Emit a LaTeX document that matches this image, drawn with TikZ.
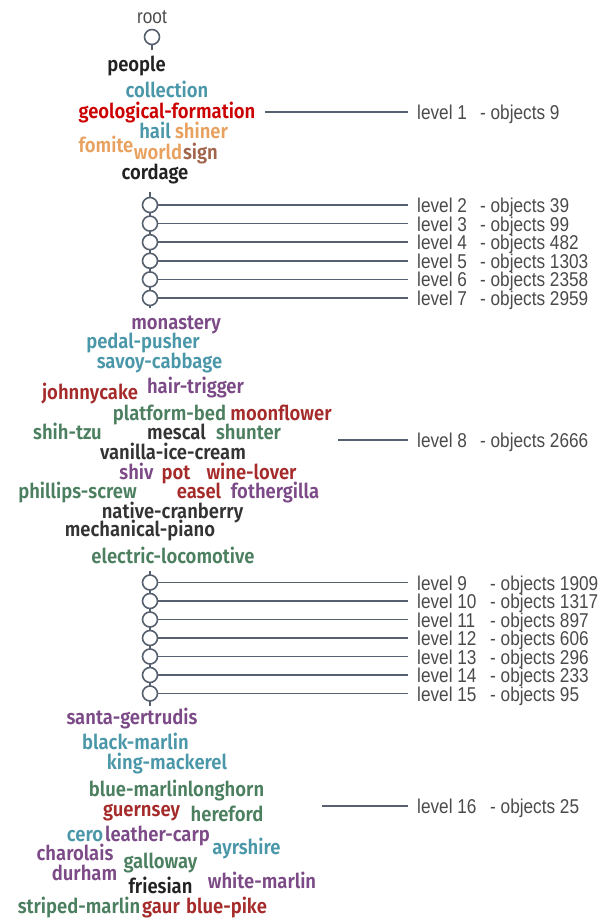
\documentclass[tikz,border=0pt]{standalone}
\usepackage{fontspec}
\setmainfont{Liberation Sans}
\newfontfamily\lblfont[FakeStretch=0.86]{Liberation Sans}
\newfontfamily\wcfont[FakeStretch=0.9]{Fira Sans SemiBold}
\definecolor{cteal}{HTML}{4A97A9}
\definecolor{cred}{HTML}{CC0000}
\definecolor{corange}{HTML}{E8A15F}
\definecolor{cbrown}{HTML}{A0644A}
\definecolor{cblack}{HTML}{222222}
\definecolor{cpurple}{HTML}{7B4A87}
\definecolor{cdred}{HTML}{A52A2A}
\definecolor{cgreen}{HTML}{4B7F5F}
\definecolor{cdgray}{HTML}{333333}
\definecolor{clinec}{HTML}{56606E}
\definecolor{clabel}{HTML}{4A4A4A}
\newcommand\lvlA[2]{\makebox[63pt][l]{level #1}- objects #2}
\newcommand\lvlB[2]{\makebox[73pt][l]{level #1}- objects #2}
\begin{document}
\begin{tikzpicture}[x=1pt,y=-1pt,
  wc/.style={anchor=mid, inner sep=0pt, yshift=-4pt, font=\wcfont\fontsize{20.5}{20.5}\selectfont},
  lbl/.style={anchor=base west, inner sep=0pt, text=clabel, font=\lblfont\fontsize{20}{20}\selectfont},
  dot/.style={circle, draw=clinec, line width=1.6pt, fill=white, minimum size=15pt, inner sep=0pt},
  conn/.style={draw=clinec, line width=1.6pt}]
\useasboundingbox (0,0) rectangle (602,920);
% root
\node[anchor=base, inner sep=0pt, text=clabel, font=\lblfont\fontsize{20}{20}\selectfont] (root) at (152,24) {root};
\node[dot] (c0) at (152,37) {};
\coordinate (c0b) at (152,50);
\draw[conn] (c0.south) -- (c0b);
% level 1 cloud
\node[wc,text=cblack] (w1) at (136.5,65) {people};
\node[wc,text=cteal] (w2) at (167,91) {collection};
\node[wc,text=cred] (w3) at (167,112) {geological-formation};
\node[wc,text=cteal] (w4) at (155,132) {hail};
\node[wc,text=corange] (w5) at (201.5,132) {shiner};
\node[wc,text=corange] (w6) at (106,146) {fomite};
\node[wc,text=corange] (w7) at (158,153) {world};
\node[wc,text=cbrown] (w8) at (200.5,153) {sign};
\node[wc,text=cblack] (w9) at (155,173) {cordage};
\coordinate (l1s) at (265,112);
\coordinate (l1e) at (408,112);
\node[lbl] (L1) at (417,119.5) {\lvlA{1}{9}};
\draw[conn] (l1s) -- (l1e);
% levels 2-7
\coordinate (v1t) at (150,192);
\coordinate (v1b) at (150,308);
\draw[conn] (v1t) -- (v1b);
\foreach \i/\yy/\n in {2/205/39,3/223.6/99,4/242.2/482,5/260.8/1303,6/279.4/2358,7/298/2959}{
  \node[dot] (c\i) at (150,\yy) {};
  \node[lbl] (L\i) at (417,\yy+7.5) {\lvlA{\i}{\n}};
  \coordinate (e\i) at (408,\yy);
  \draw[conn] (c\i.east) -- (e\i);
}
% level 8 cloud
\node[wc,text=cpurple] (m1) at (176,323) {monastery};
\node[wc,text=cteal] (m2) at (143,342) {pedal-pusher};
\node[wc,text=cteal] (m3) at (159.5,362) {savoy-cabbage};
\node[wc,text=cdred] (m4) at (90,393) {johnnycake};
\node[wc,text=cpurple] (m5) at (195.5,387) {hair-trigger};
\node[wc,text=cgreen] (m6) at (169.5,414) {platform-bed};
\node[wc,text=cdred] (m7) at (281,414) {moonflower};
\node[wc,text=cgreen] (m8) at (67.5,433) {shih-tzu};
\node[wc,text=cdgray] (m9) at (176.5,433) {mescal};
\node[wc,text=cgreen] (m10) at (248.5,433) {shunter};
\node[wc,text=cdgray] (m11) at (173,453) {vanilla-ice-cream};
\node[wc,text=cpurple] (m12) at (136.5,473) {shiv};
\node[wc,text=cdred] (m13) at (176,473) {pot};
\node[wc,text=cdred] (m14) at (251.5,473) {wine-lover};
\node[wc,text=cgreen] (m15) at (77.5,492) {phillips-screw};
\node[wc,text=cdred] (m16) at (199,492) {easel};
\node[wc,text=cpurple] (m17) at (275,492) {fothergilla};
\node[wc,text=cdgray] (m18) at (172.5,512) {native-cranberry};
\node[wc,text=cdgray] (m19) at (140,530) {mechanical-piano};
\node[wc,text=cgreen] (m20) at (173,557) {electric-locomotive};
\coordinate (l8s) at (338,440);
\coordinate (l8e) at (408,440);
\node[lbl] (L8) at (417,447.5) {\lvlA{8}{2666}};
\draw[conn] (l8s) -- (l8e);
% levels 9-15
\coordinate (v2t) at (150,571);
\coordinate (v2b) at (150,706);
\draw[conn] (v2t) -- (v2b);
\foreach \i/\yy/\n in {9/582.5/1909,10/601/1317,11/619.5/897,12/638/606,13/656.5/296,14/675/233,15/693.5/95}{
  \node[dot] (c\i) at (150,\yy) {};
  \node[lbl] (L\i) at (417,\yy+7.5) {\lvlB{\i}{\n}};
  \coordinate (e\i) at (408,\yy);
  \draw[conn] (c\i.east) -- (e\i);
}
% level 16 cloud
\node[wc,text=cpurple] (s1) at (132,718) {santa-gertrudis};
\node[wc,text=cteal] (s2) at (135.5,743) {black-marlin};
\node[wc,text=cteal] (s3) at (167,763) {king-mackerel};
\node[wc,text=cgreen] (s4) at (138.5,790) {blue-marlin};
\node[wc,text=cgreen] (s5) at (226,790) {longhorn};
\node[wc,text=cdred] (s6) at (141.5,810) {guernsey};
\node[wc,text=cgreen] (s7) at (227,815) {hereford};
\node[wc,text=cteal] (s8) at (85,835) {cero};
\node[wc,text=cpurple] (s9) at (157.5,835) {leather-carp};
\node[wc,text=cteal] (s10) at (246.5,848) {ayrshire};
\node[wc,text=cpurple] (s11) at (75,854) {charolais};
\node[wc,text=cgreen] (s12) at (160.5,862) {galloway};
\node[wc,text=cpurple] (s13) at (84.5,874) {durham};
\node[wc,text=cblack] (s14) at (160.5,887) {friesian};
\node[wc,text=cpurple] (s15) at (262,882) {white-marlin};
\node[wc,text=cgreen] (s16) at (79,907) {striped-marlin};
\node[wc,text=cdred] (s17) at (161,907) {gaur};
\node[wc,text=cdred] (s18) at (226.5,907) {blue-pike};
\coordinate (l16s) at (322,806);
\coordinate (l16e) at (408,806);
\node[lbl] (L16) at (417,813.5) {\lvlB{16}{25}};
\draw[conn] (l16s) -- (l16e);
\end{tikzpicture}
\end{document}
